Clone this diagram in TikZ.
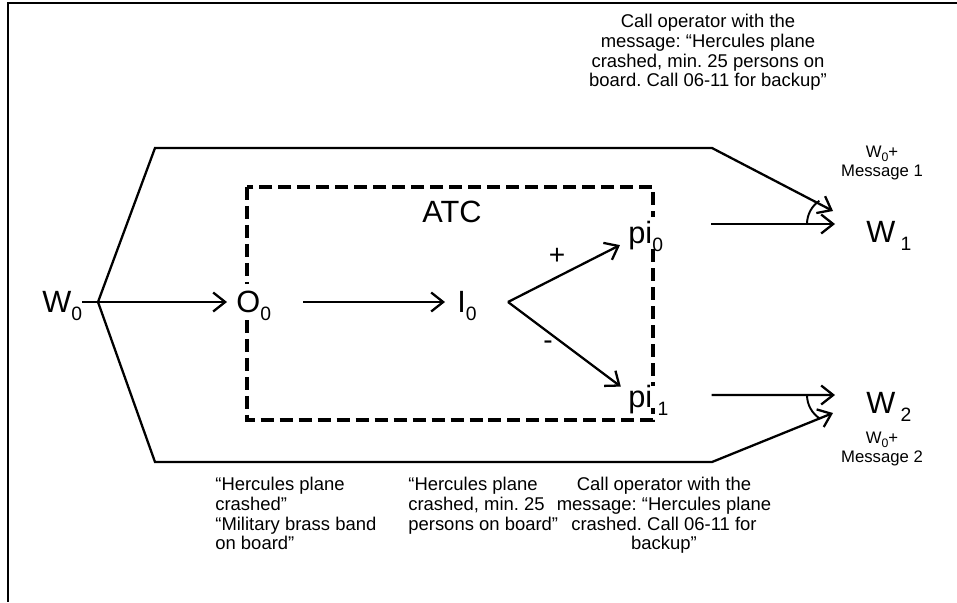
\documentclass[tikz,border=0pt]{standalone}
\usepackage{fontspec}
\setmainfont{Liberation Sans}
\usetikzlibrary{arrows.meta}
\frenchspacing
\newcommand{\sbs}[1]{\raisebox{-4pt}{\fontsize{11}{11}\selectfont#1}}
\newcommand{\sbn}[1]{\raisebox{-2pt}{\fontsize{7}{7}\selectfont#1}}

\begin{document}
\begin{tikzpicture}[x=0.2mm, y=-0.2mm,
    lbl/.style={font=\fontsize{17.5}{17.5}\selectfont, inner sep=0pt,
        text height=12.5pt, text depth=0pt},
    note/.style={font=\fontsize{10.5}{11.2}\selectfont, inner sep=0pt},
    small/.style={font=\fontsize{9.5}{10.5}\selectfont, inner sep=0pt, align=center},
    arr/.style={-{Straight Barb[length=2.4mm,width=3.8mm]}, line width=1.3pt},
    atcbox/.style={draw, line width=2.4pt, dash pattern=on 7.4pt off 3.4pt}
]
    \useasboundingbox (0,0) rectangle (957,602);
    \draw[line width=1.1pt] (957,3) -- (8,3) -- (8,602);

    \draw[atcbox] (247,187) rectangle (653,420);
    \node[lbl] (atc) at (452,212) {ATC};

    \node[lbl, anchor=west] (w0) at (42,302) {W\sbs{0}};
    \node[lbl, anchor=west, fill=white, inner ysep=4pt] (o0) at (236,302) {O\sbs{0}};
    \node[lbl, anchor=west] (i0) at (457,302) {I\sbs{0}};
    \node[lbl, anchor=west, fill=white, inner ysep=3pt] (pi0) at (628,233) {pi\sbs{0}};
    \node[lbl, anchor=west, fill=white] (pi1) at (628,397) {pi\hspace{3pt}\sbs{1}};
    \node[lbl, anchor=west] (w1) at (866,232) {W\hspace{3pt}\sbs{1}};
    \node[lbl, anchor=west] (w2) at (866,403) {W\hspace{3pt}\sbs{2}};

    \coordinate (fork) at (98,302);
    \coordinate (split) at (508,302);
    \coordinate (hi) at (833,211);
    \coordinate (lo) at (833,413);

    \draw[arr, shorten >=1.8mm] (w0) -- (o0);
    \draw[arr, shorten <=6.4mm, shorten >=2.4mm] (o0) -- (i0);
    \draw[arr, shorten >=1.8mm] (split) -- ([yshift=-1.6mm]pi0.west);
    \draw[arr, shorten >=1.8mm] (split) -- ([yshift=1mm]pi1.west);
    \draw[arr, shorten <=9.6mm, shorten >=6.2mm] ([yshift=1.8mm]pi0.east) -- ([yshift=1.6mm]w1.west);
    \draw[arr, shorten <=8.6mm, shorten >=6.2mm] ([yshift=0.4mm]pi1.east) -- ([yshift=1.6mm]w2.west);
    \draw[arr] (fork) -- (155,148) -- (712,148) -- (hi);
    \draw[arr] (fork) -- (155,462) -- (712,462) -- (lo);

    \draw[line width=1.1pt] (807,224) arc[start angle=180, end angle=236, radius=28];
    \draw[line width=1.1pt] (807,395) arc[start angle=180, end angle=122, radius=28];

    \node[font=\fontsize{16}{16}\selectfont] (plus) at (557,256) {+};
    \node[font=\fontsize{16}{16}\selectfont] (minus) at (548,345) {-};

    \node[small] (m1) at (882,163) {W\sbn{0}+\\Message 1};
    \node[small] (m2) at (882,449) {W\sbn{0}+\\Message 2};

    \node[note, align=center, anchor=north] (call1) at (708,14)
        {Call operator with the\\message: “Hercules plane\\crashed, min. 25 persons on\\board. Call 06-11 for backup”};
    \node[note, align=left, anchor=north west] (info0) at (215,477)
        {“Hercules plane\\crashed”\\“Military brass band\\on board”};
    \node[note, align=left, anchor=north west] (info1) at (408,477)
        {“Hercules plane\\crashed, min. 25\\persons on board"};
    \node[note, align=center, anchor=north] (call2) at (664,477)
        {Call operator with the\\message: “Hercules plane\\crashed. Call 06-11 for\\backup”};
\end{tikzpicture}
\end{document}
